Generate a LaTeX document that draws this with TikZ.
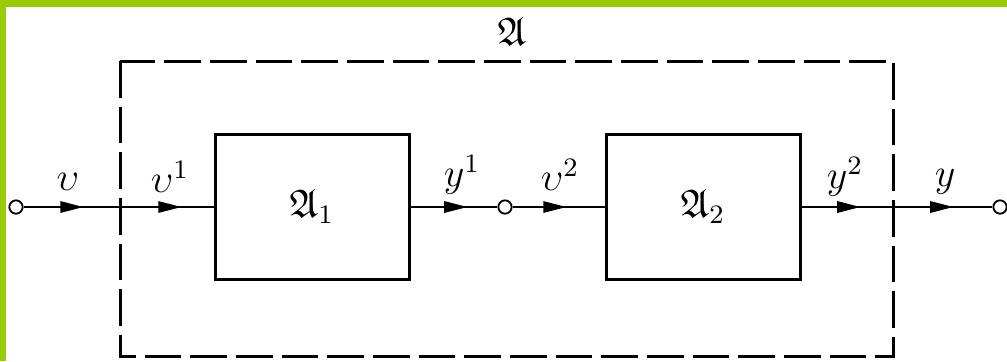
\documentclass[tikz,border=0pt]{standalone}
\usepackage{amssymb}
\usetikzlibrary{arrows.meta,decorations.markings}
\definecolor{edgegreen}{HTML}{99CC00}
\begin{document}
\begin{tikzpicture}[x=0.3pt,y=-0.3pt,
  sig/.style={line width=0.6pt},
  box/.style={draw,line width=0.9pt,minimum width=58.2pt,minimum height=43.5pt,inner sep=0pt,font=\large},
  port/.style={circle,draw,line width=0.55pt,minimum size=4pt,inner sep=0pt,fill=white},
  frame/.style={draw,line width=0.9pt,dash pattern=on 11pt off 2.7pt},
  lbl/.style={inner sep=0pt,font=\large},
  arrone/.style={postaction={decorate},decoration={markings,
     mark=at position #1 with {\arrow{Triangle[length=7pt,width=3.4pt]}}}},
  arrtwo/.style 2 args={postaction={decorate},decoration={markings,
     mark=at position #1 with {\arrow{Triangle[length=7pt,width=3.4pt]}},
     mark=at position #2 with {\arrow{Triangle[length=7pt,width=3.4pt]}}}},
]
\useasboundingbox (0,0) rectangle (1007,361);
\fill[white] (0,0) rectangle (1007,361);
\fill[edgegreen] (0,0) rectangle (1007,7);
\fill[edgegreen] (0,0) rectangle (6,361);

% dashed outer system
\draw[frame] (120,61) rectangle (893,356);
\node[lbl] (title) at (512,32) {$\mathfrak{A}$};

% blocks
\node[box] (b1) at (312,207) {$\mathfrak{A}_1$};
\node[box] (b2) at (703,207) {$\mathfrak{A}_2$};

% ports
\node[port] (pin) at (16,207) {};
\node[port] (pmid) at (505,207) {};
\node[port] (pout) at (1000,207) {};

% connectors
\draw[sig,arrtwo={18pt}{47.4pt}] (pin) -- (b1);
\draw[sig,arrone={17.1pt}] (b1) -- (pmid);
\draw[sig,arrone={16.2pt}] (pmid) -- (b2);
\draw[sig,arrtwo={17.7pt}{45.6pt}] (b2) -- (pout);

% labels
\node[lbl] (lu) at (68,182) {$\upsilon$};
\node[lbl] (lu1) at (170,177) {$\upsilon^1$};
\node[lbl] (ly1) at (462,175) {$y^1$};
\node[lbl] (lu2) at (560,175) {$\upsilon^2$};
\node[lbl] (ly2) at (845,177) {$y^2$};
\node[lbl] (ly) at (945,182) {$y$};
\end{tikzpicture}
\end{document}
